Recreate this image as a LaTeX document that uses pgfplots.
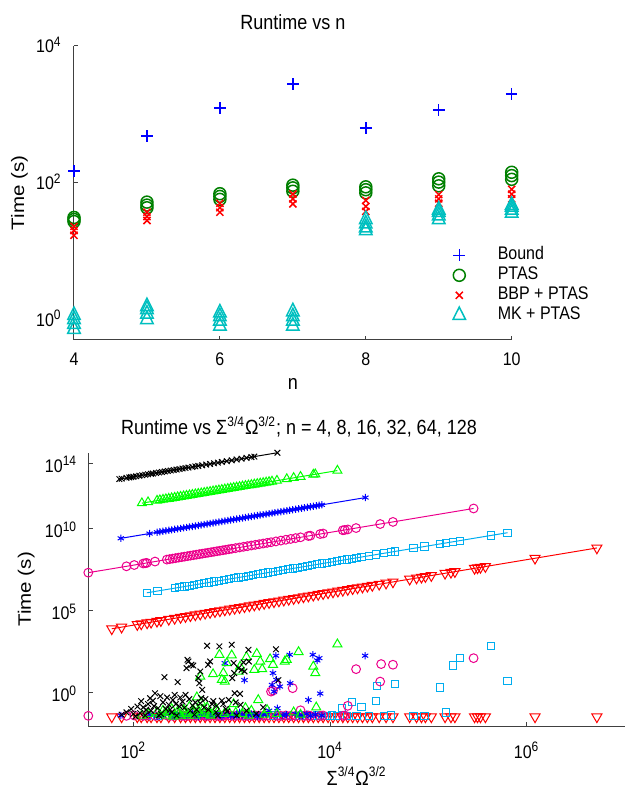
\documentclass[border=0pt]{standalone}
\usepackage{fontspec}
\setmainfont{Liberation Sans}
\usepackage{graphicx}
\usepackage{pgfplots}
\pgfplotsset{compat=1.18}

\definecolor{bndblue}{rgb}{0,0,1}
\definecolor{ptgreen}{rgb}{0,0.5,0}
\definecolor{mkcyan}{rgb}{0,0.75,0.75}
\definecolor{axgray}{rgb}{0.25,0.25,0.25}

% the reference lettering is slightly taller than wide
\newcommand{\vs}[1]{\scalebox{1}[1.14]{#1}}
\newcommand{\hs}[1]{\scalebox{1.14}[1]{#1}}
\newcommand{\tp}[1]{\vs{10\textsuperscript{#1}}}

\pgfplotsset{
  mlstyle/.style={
    scale only axis,
    axis x line*=bottom, axis y line*=left,
    axis line style={-, axgray, line width=0.5pt},
    tick style={axgray, line width=0.5pt},
    tick align=inside, major tick length=2.2pt,
    xminorticks=false, yminorticks=false,
    clip=false,
    tick label style={font=\fontsize{8}{9}\selectfont},
    xlabel style={font=\fontsize{9}{10}\selectfont, anchor=base},
    ylabel style={font=\fontsize{9}{10}\selectfont, anchor=base},
  },
}

\begin{document}
\begin{tikzpicture}
\path[use as bounding box] (0,0) rectangle (313pt,394.5pt);

%% top panel: runtime against n
\begin{axis}[
  mlstyle,
  at={(37pt,224.5pt)}, anchor=south west,
  width=218.85pt, height=147pt,
  xmin=4, xmax=10, ymode=log, ymin=0.5, ymax=1e4,
  xtick={4,6,8,10}, xticklabels={\vs{4},\vs{6},\vs{8},\vs{10}},
  ytick={1,100,10000},
  yticklabels={\tp{0},\tp{2},\tp{4}},
  xticklabel style={anchor=base, yshift=-13pt},
  yticklabel style={anchor=base east, inner sep=0pt, xshift=-6pt, yshift=-3.5pt},
  title={\vs{Runtime vs n}},
  every axis title/.style={at={(axis description cs:0.5,1.0568)}, anchor=base,
    font=\fontsize{9}{10}\selectfont},
  xlabel={\vs{n}},
  xlabel style={at={(axis description cs:0.5,-0.170)}},
  ylabel={\hs{Time (s)}},
  ylabel style={at={(axis description cs:-0.1142,0.5)}},
  legend style={draw=none, fill=none, at={(axis description cs:0.8437,0.3221)},
    anchor=north west, inner sep=0pt, outer sep=0pt, row sep=0pt,
    font=\fontsize{8}{9}\selectfont,
    nodes={inner sep=1.25pt, text height=6pt, text depth=1.5pt}},
  legend cell align=left,
  legend image code/.code={\path[draw=none, fill=none] (0pt,0pt) -- (26pt,0pt);
    \path[#1, line width=0.75pt] plot[only marks] coordinates {(8pt,0pt)};},
  every axis plot/.append style={line width=0.75pt},
]
\addplot[only marks, mark=+, mark size=2.9pt, color=bndblue,
  legend image code/.code={\path[draw=none, fill=none] (0pt,0pt) -- (26pt,0pt);
    \path[draw=bndblue, color=bndblue, line width=0.75pt, mark size=2.9pt,
      mark options={draw=bndblue}] plot[only marks, mark=+] coordinates {(8pt,0pt)};}]
  coordinates {(4,148) (5,480) (6,1245) (7,2770) (8,630) (9,1165) (10,2000)};
\addplot[only marks, mark=o, mark size=3pt, ptgreen]
  coordinates {(4,27) (4,29) (4,31) (5,43) (5,47) (5,52) (6,57) (6,63) (6,69)
    (7,75) (7,84) (7,92) (8,71) (8,79) (8,87) (9,90) (9,102) (9,114)
    (10,112) (10,127) (10,142)};
\addplot[only marks, mark=x, mark size=2.5pt, red]
  coordinates {(4,17) (4,20) (4,23) (5,28) (5,32) (5,37) (6,37) (6,43) (6,50)
    (7,49) (7,58) (7,68) (8,38) (8,45) (8,55) (9,50) (9,58) (9,67)
    (10,58) (10,68) (10,80)};
\addplot[only marks, mark=triangle, mark size=3.6pt, mkcyan, mark options={yscale=1.15}]
  coordinates {(4,0.72) (4,0.85) (4,1.0) (4,1.15) (5,1.0) (5,1.2) (5,1.4) (5,1.55)
    (6,0.8) (6,0.95) (6,1.1) (6,1.25) (7,0.8) (7,0.95) (7,1.1) (7,1.3)
    (8,20) (8,22) (8,25) (8,29) (9,29) (9,33) (9,37) (9,40)
    (10,36) (10,40) (10,44) (10,47)};
\legend{\vs{Bound}, \vs{PTAS}, \vs{BBP + PTAS}, \vs{MK + PTAS}}
\end{axis}

%% bottom panel: bound (upper lines) and runtime (lower points), n ascending
\begin{axis}[
  mlstyle,
  at={(44.15pt,31.5pt)}, anchor=south west,
  width=268.35pt, height=136.65pt,
  xmode=log, ymode=log,
  xmin=34.8, xmax=1e7, ymin=0.0091, ymax=4.4e14,
  xtick={1e2,1e4,1e6},
  xticklabels={\tp{2},\tp{4},\tp{6}},
  ytick={1,1e5,1e10,1e14},
  yticklabels={\tp{0},\tp{5},\tp{10},\tp{14}},
  xticklabel style={anchor=base, yshift=-16pt},
  yticklabel style={anchor=base east, inner sep=0pt, xshift=-5.4pt, yshift=-4.5pt},
  title={\vs{Runtime vs Σ\textsuperscript{3/4}Ω\textsuperscript{3/2}; n = 4, 8, 16, 32, 64, 128}},
  every axis title/.style={at={(axis description cs:0.3926,1.0648)}, anchor=base,
    font=\fontsize{9}{10}\selectfont},
  xlabel={\vs{Σ\textsuperscript{3/4}Ω\textsuperscript{3/2}}},
  xlabel style={at={(axis description cs:0.5,-0.2159)}},
  ylabel={\hs{Time (s)}},
  ylabel style={at={(axis description cs:-0.1068,0.5)}},
  every axis plot/.append style={line width=0.5pt},
]
%% n = 4
\addplot[red, mark=triangle, mark size=2.9pt, mark options={rotate=180}]
  coordinates {(60.3,7839) (75.9,9867) (109.6,14248) (120.2,15626) (138,17940)
    (151.4,19682) (173.8,22594) (190.5,24765) (229.1,29783) (263,34190)
    (302,39260) (338.8,44044) (380.2,49426) (426.6,55458) (478.6,62218)
    (537,69810) (602.6,78338) (676.1,87893) (758.6,98618) (851.1,110643)
    (955,124150) (1072,139360) (1202,156260) (1349,175370) (1514,196820)
    (1698,220740) (1905,247650) (2138,277940) (2399,311870) (2692,349960)
    (3020,392600) (3388,440440) (3802,494260) (4266,554580) (4786,622180)
    (5370,698100) (6026,783380) (6761,878930) (7586,986180) (8511,1106430)
    (9550,1241500) (10720,1393600) (12020,1562600) (13490,1753700)
    (15140,1968200) (16980,2207400) (19050,2476500) (21380,2779400)
    (23990,3118700) (26920,3499600) (31620,4110600) (37150,4829500)
    (43650,5674500) (64570,8394100) (75860,9861800) (85110,11064300)
    (93330,12132900) (107200,13936000) (147900,19227000) (169800,22074000)
    (186200,24206000) (295100,38363000) (316200,41106000) (338800,44044000)
    (380200,49426000) (1216000,158080000) (5176000,672880000)};
\addplot[only marks, red, mark=triangle, mark size=2.9pt, mark options={rotate=180}]
  coordinates {(60.3,0.033) (75.9,0.033) (109.6,0.033) (120.2,0.033) (138,0.033)
    (151.4,0.033) (173.8,0.033) (190.5,0.033) (229.1,0.033) (263,0.033)
    (302,0.033) (338.8,0.033) (380.2,0.033) (426.6,0.033) (478.6,0.033)
    (537,0.033) (602.6,0.033) (676.1,0.033) (758.6,0.033) (851.1,0.033)
    (955,0.033) (1072,0.033) (1202,0.033) (1349,0.033) (1514,0.033)
    (1698,0.033) (1905,0.033) (2138,0.033) (2399,0.033) (2692,0.033)
    (3020,0.033) (3388,0.033) (3802,0.033) (4266,0.033) (4786,0.033)
    (5370,0.033) (6026,0.033) (6761,0.033) (7586,0.033) (8511,0.033)
    (9550,0.033) (10720,0.033) (12020,0.033) (13490,0.033) (15140,0.033)
    (16980,0.033) (19050,0.033) (21380,0.033) (23990,0.033) (26920,0.033)
    (31620,0.033) (37150,0.033) (43650,0.033) (64570,0.033) (75860,0.033)
    (85110,0.033) (93330,0.033) (107200,0.033) (147900,0.033) (169800,0.033)
    (186200,0.033) (295100,0.033) (316200,0.033) (338800,0.033) (380200,0.033)
    (1216000,0.033) (5176000,0.033)};
%% n = 8
\addplot[cyan, mark=square, mark size=1.8pt]
  coordinates {(137,1.233e6) (176,1.584e6) (263,2.367e6) (295,2.655e6) (331,2.979e6)
    (372,3.348e6) (417,3.753e6) (468,4.212e6) (525,4.725e6) (589,5.301e6)
    (661,5.949e6) (741,6.669e6) (832,7.488e6) (933,8.397e6) (1047,9.423e6)
    (1175,1.0575e7) (1318,1.1862e7) (1479,1.3311e7) (1660,1.494e7)
    (1862,1.6758e7) (2089,1.8801e7) (2344,2.1096e7) (2630,2.367e7)
    (2951,2.6559e7) (3311,2.9799e7) (3715,3.3435e7) (4169,3.7521e7)
    (4677,4.2093e7) (5248,4.7232e7) (5888,5.2992e7) (6607,5.9463e7)
    (7413,6.6717e7) (8318,7.4862e7) (9333,8.3997e7) (10470,9.423e7)
    (11750,1.0575e8) (13180,1.1862e8) (14790,1.3311e8) (16600,1.494e8)
    (18620,1.6758e8) (20890,1.8801e8) (25120,2.2608e8) (29510,2.6559e8)
    (35480,3.1932e8) (41690,3.7521e8) (45710,4.1139e8) (70790,6.3711e8)
    (91200,8.208e8) (131800,1.1862e9) (151400,1.3626e9) (177800,1.6002e9)
    (208900,1.8801e9) (436500,3.9285e9) (638300,5.7447e9)};
\addplot[only marks, cyan, mark=square, mark size=1.8pt]
  coordinates {(137,0.038) (176,0.038) (263,0.038) (331,0.04) (417,0.038) (525,0.038)
    (661,0.04) (832,0.038) (1047,0.038) (1318,0.04) (1660,0.038) (2089,0.038)
    (2630,0.04) (3311,0.038) (4169,0.038) (5248,0.04) (5888,0.038) (6607,0.038)
    (7413,0.04) (8318,0.038) (9333,0.038) (10470,0.04) (11750,0.038) (13180,0.11)
    (14790,0.038) (16600,0.28) (18620,0.038) (20890,0.138) (25120,0.038)
    (29510,0.31) (29920,2.57) (35480,0.038) (41690,0.04) (45710,3.39)
    (70790,0.038) (91200,0.038) (131800,2.04) (151400,0.06) (177800,44.7)
    (208900,126) (436500,661) (638300,5.37)};
%% n = 16
\addplot[magenta, mark=o, mark size=2.2pt]
  coordinates {(34.8,2.088e7) (85,5.1e7) (102,6.12e7) (126,7.56e7) (132,7.92e7)
    (137,8.22e7) (166,9.96e7) (219,1.314e8) (234,1.404e8) (251,1.506e8)
    (269,1.614e8) (288,1.728e8) (309,1.854e8) (331,1.986e8) (355,2.13e8)
    (380,2.28e8) (407,2.442e8) (437,2.622e8) (468,2.808e8) (501,3.006e8)
    (537,3.222e8) (575,3.45e8) (617,3.702e8) (661,3.966e8) (708,4.248e8)
    (759,4.554e8) (813,4.878e8) (871,5.226e8) (933,5.598e8) (1000,6.0e8)
    (1096,6.576e8) (1202,7.212e8) (1318,7.908e8) (1445,8.67e8) (1585,9.51e8)
    (1738,1.0428e9) (1905,1.143e9) (2089,1.2534e9) (2291,1.3746e9)
    (2512,1.5072e9) (2818,1.6908e9) (3162,1.8972e9) (3548,2.1288e9)
    (3981,2.3886e9) (4467,2.6802e9) (5012,3.0072e9) (6026,3.6156e9)
    (6310,3.786e9) (7943,4.7658e9) (8511,5.1066e9) (13490,8.094e9)
    (14130,8.478e9) (15140,9.084e9) (18410,1.1046e10) (32360,1.9416e10)
    (43650,2.619e10) (288400,1.7304e11)};
\addplot[only marks, magenta, mark=o, mark size=2.2pt]
  coordinates {(34.8,0.038) (85,0.038) (102,0.04) (126,0.038) (137,0.04) (166,0.038)
    (219,0.04) (234,0.038) (251,0.038) (269,0.04) (288,0.042) (309,0.038)
    (331,0.038) (355,0.038) (380,0.04) (407,0.04) (437,0.038) (468,0.038)
    (501,0.042) (537,0.038) (575,0.038) (617,0.04) (661,0.04) (708,0.038)
    (759,0.038) (813,0.038) (871,0.042) (933,0.04) (1000,0.038) (1096,0.038)
    (1202,0.04) (1318,0.038) (1445,0.038) (1585,0.038) (1738,0.04) (1905,0.038)
    (2089,0.038) (2291,0.04) (2512,1.15) (2630,1.32) (2818,2.95) (2900,0.038)
    (3162,0.038) (3548,0.04) (3981,0.038) (4169,1.86) (4467,0.038) (5012,0.083)
    (5500,0.038) (6026,0.04) (6310,0.038) (7943,0.038) (8511,0.04) (13490,0.038)
    (14130,0.04) (15140,0.155) (18410,26.9) (32360,4.68) (33110,55) (43650,50.1)
    (288400,126)};
%% n = 32
\addplot[blue, mark=asterisk, mark size=1.8pt]
  coordinates {(74.5,2.6075e9) (146,5.11e9) (174,6.09e9) (186,6.51e9) (200,7.0e9)
    (214,7.49e9) (229,8.015e9) (245,8.575e9) (263,9.205e9) (282,9.87e9)
    (302,1.057e10) (324,1.134e10) (347,1.2145e10) (372,1.302e10) (398,1.393e10)
    (427,1.4945e10) (457,1.5995e10) (490,1.715e10) (525,1.8375e10) (562,1.967e10)
    (603,2.1105e10) (646,2.261e10) (692,2.422e10) (741,2.5935e10) (794,2.779e10)
    (851,2.9785e10) (912,3.192e10) (977,3.4195e10) (1047,3.6645e10)
    (1122,3.927e10) (1202,4.207e10) (1288,4.508e10) (1380,4.83e10)
    (1479,5.1765e10) (1585,5.5475e10) (1698,5.943e10) (1820,6.37e10)
    (1950,6.825e10) (2089,7.3115e10) (2239,7.8365e10) (2399,8.3965e10)
    (2570,8.995e10) (2754,9.639e10) (2951,1.03285e11) (3162,1.1067e11)
    (3388,1.1858e11) (3631,1.27085e11) (3890,1.3615e11) (4169,1.45915e11)
    (4467,1.56345e11) (4786,1.6751e11) (5129,1.79515e11) (5495,1.92325e11)
    (5888,2.0608e11) (6310,2.2085e11) (6761,2.36635e11) (7244,2.5354e11)
    (7762,2.7167e11) (8241,2.88435e11) (22900,8.015e11)};
\addplot[only marks, blue, mark=asterisk, mark size=1.8pt]
  coordinates {(74.5,0.04) (146,0.045) (174,0.035) (200,0.04) (229,0.05) (250,0.042)
    (263,0.035) (280,0.05) (302,0.045) (320,0.038) (347,0.04) (370,0.046)
    (398,0.056) (420,0.04) (457,0.035) (490,0.052) (525,0.045) (560,0.038)
    (603,0.04) (650,0.045) (692,0.05) (740,0.042) (794,0.035) (851,63.1)
    (870,0.05) (912,0.045) (980,0.038) (1047,0.04) (1120,0.046) (1202,0.063)
    (1280,0.04) (1349,5.75) (1380,0.04) (1480,0.044) (1585,0.05) (1700,0.05)
    (1820,0.035) (1950,0.04) (2089,0.045) (2250,0.046) (2399,0.079) (2570,2.95)
    (2630,15.5) (2692,1.15) (2750,0.04) (2818,178) (2851,6.03) (2917,0.11)
    (3090,2.34) (3311,0.04) (3600,0.045) (3890,204) (3936,3.72) (4467,0.05)
    (4900,0.04) (5248,0.04) (5800,0.05) (6026,0.355) (6300,0.038) (6683,204)
    (7079,0.045) (7413,91.2) (7762,126) (7943,0.87) (8241,0.04) (22750,178)};
%% n = 64
\addplot[green, mark=triangle, mark size=2.6pt]
  coordinates {(122,3.66e11) (141,4.23e11) (174,5.22e11) (186,5.58e11) (200,6.0e11)
    (214,6.42e11) (229,6.87e11) (245,7.35e11) (263,7.89e11) (282,8.46e11)
    (302,9.06e11) (324,9.72e11) (347,1.041e12) (372,1.116e12) (398,1.194e12)
    (427,1.281e12) (457,1.371e12) (490,1.47e12) (525,1.575e12) (562,1.686e12)
    (603,1.809e12) (646,1.938e12) (692,2.076e12) (741,2.223e12) (794,2.382e12)
    (851,2.553e12) (912,2.736e12) (977,2.931e12) (1047,3.141e12) (1122,3.366e12)
    (1202,3.606e12) (1288,3.864e12) (1380,4.14e12) (1479,4.437e12) (1585,4.755e12)
    (1698,5.094e12) (1820,5.46e12) (1950,5.85e12) (2089,6.267e12) (2239,6.717e12)
    (2399,7.197e12) (2570,7.71e12) (2884,8.652e12) (3631,1.0893e13)
    (4266,1.2798e13) (5012,1.5036e13) (6761,2.0283e13) (7079,2.1237e13)
    (11885,3.5655e13)};
\addplot[only marks, green, mark=triangle, mark size=2.6pt]
  coordinates {(122,0.04) (141,0.05) (174,0.063) (186,0.045) (200,0.079) (210,0.06)
    (214,0.04) (229,0.056) (245,0.1) (255,0.035) (263,0.045) (282,0.071) (290,0.05)
    (302,0.04) (324,0.089) (335,0.06) (347,0.05) (360,0.04) (372,0.14) (398,0.063)
    (410,0.08) (427,0.04) (442,0.52) (457,0.079) (470,0.05) (479,9.55) (490,0.25)
    (510,0.09) (525,0.05) (562,0.126) (580,0.06) (603,0.045) (620,0.04) (646,13.5)
    (692,0.1) (720,0.07) (750,204) (794,6.03) (822,15.5) (840,0.05) (851,4.68)
    (891,63.1) (933,0.063) (1000,191) (1047,0.2) (1100,0.06) (1175,19.5)
    (1216,38.9) (1288,0.05) (1380,0.115) (1413,148) (1500,0.04) (1585,0.079)
    (1698,24.5) (1799,234) (1862,0.355) (1950,79.4) (2042,26.9) (2138,0.045)
    (2291,0.087) (2455,112) (2630,50.1) (2884,0.05) (3467,79.4) (3631,100)
    (4266,0.063) (4786,302) (5012,0.045) (6761,38.9) (7079,15.5) (7244,0.126)
    (11885,891)};
%% n = 128
\addplot[black, mark=x, mark size=2pt]
  coordinates {(72,1.08e13) (76,1.14e13) (85,1.275e13) (91,1.365e13) (95,1.425e13)
    (100,1.5e13) (107,1.605e13) (115,1.725e13) (123,1.845e13) (132,1.98e13)
    (141,2.115e13) (151,2.265e13) (158,2.37e13) (170,2.55e13) (182,2.73e13)
    (195,2.925e13) (209,3.135e13) (224,3.36e13) (240,3.6e13) (257,3.855e13)
    (275,4.125e13) (295,4.425e13) (316,4.74e13) (339,5.085e13) (363,5.445e13)
    (398,5.97e13) (427,6.405e13) (457,6.855e13) (501,7.515e13) (550,8.25e13)
    (603,9.045e13) (661,9.915e13) (724,1.086e14) (794,1.191e14) (891,1.3365e14)
    (1000,1.5e14) (1122,1.683e14) (1259,1.8885e14) (1413,2.1195e14)
    (1585,2.3775e14) (1700,2.55e14) (2917,4.3755e14)};
\addplot[only marks, black, mark=x, mark size=2pt]
  coordinates {(76,0.045) (85,0.063) (95,0.10) (100,0.05) (105,0.035) (110,0.14)
    (117,0.056) (120,0.3) (126,0.126) (132,0.04) (135,0.09) (141,0.2) (148,0.45)
    (151,0.079) (158,0.32) (162,0.15) (166,0.91) (178,0.11) (182,0.04) (188,0.6)
    (191,0.05) (200,0.25) (207,8.7) (214,0.1) (220,0.5) (229,0.18) (237,0.09)
    (245,0.063) (252,0.35) (263,0.72) (270,0.2) (275,0.04) (282,4.37) (295,0.14)
    (300,0.5) (316,0.28) (330,0.12) (339,0.72) (347,30.9) (355,100) (363,79.4)
    (370,0.4) (380,0.079) (389,50.1) (400,0.16) (407,44.7) (417,0.045) (427,0.25)
    (440,0.09) (457,7.59) (468,3.72) (479,19.5) (480,0.22) (490,0.46) (501,1.48)
    (525,0.126) (540,0.4) (562,724) (575,50.1) (580,0.09) (603,79.4) (631,0.2)
    (650,0.3) (692,0.063) (700,0.15) (724,0.04) (750,661) (794,0.32) (820,0.2)
    (871,0.1) (900,0.07) (933,0.355) (1000,832) (1012,7.59) (1047,63.1)
    (1059,15.5) (1072,0.91) (1100,0.25) (1122,0.04) (1175,30.9) (1216,0.83)
    (1230,0.18) (1259,24.5) (1318,69.2) (1349,19.5) (1413,0.079) (1479,407)
    (1496,79.4) (1778,0.05) (2089,0.126) (2818,437) (2985,5.75)};
\end{axis}
\end{tikzpicture}
\end{document}
